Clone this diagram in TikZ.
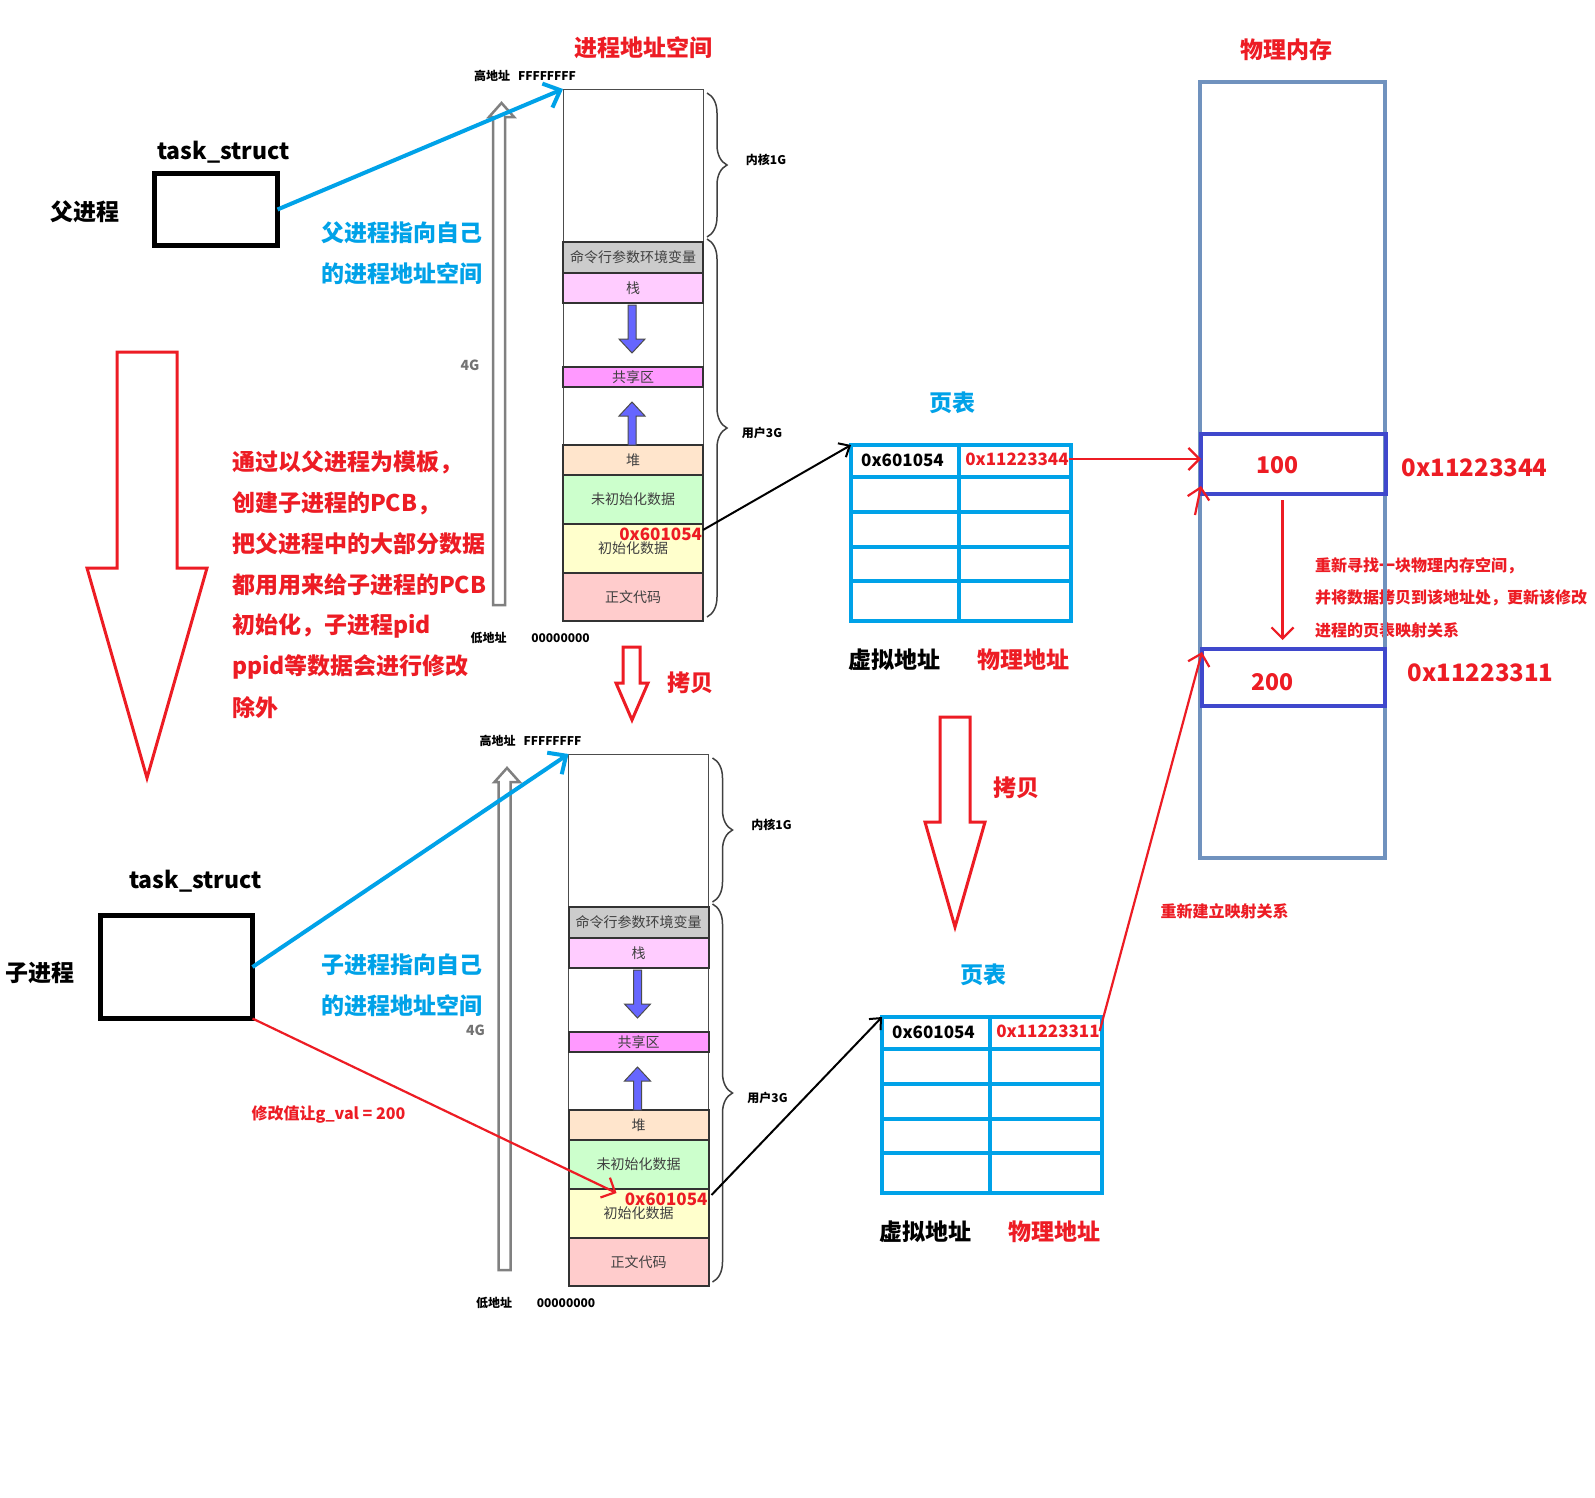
\documentclass[tikz,border=0pt]{standalone}
\usepackage{fontspec}
\setmainfont{Noto Sans CJK SC}
\usetikzlibrary{arrows.meta,decorations.pathreplacing,calc}
\definecolor{pred}{HTML}{ED1C24}
\definecolor{pblue}{HTML}{00A2E8}
\definecolor{pindigo}{HTML}{3F48CC}
\definecolor{pgrey}{HTML}{7092BE}
\definecolor{bgray}{HTML}{CCCCCC}
\definecolor{bpink}{HTML}{FFCCFF}
\definecolor{bmag}{HTML}{FF99FF}
\definecolor{bpeach}{HTML}{FFE5CC}
\definecolor{bgreen}{HTML}{CCFFCC}
\definecolor{byellow}{HTML}{FFFFCC}
\definecolor{bred}{HTML}{FFCCCC}
\definecolor{arrblue}{HTML}{6666FF}

\begin{document}
\begin{tikzpicture}[x=1pt,y=-1pt,
  >={Straight Barb[length=11pt,width=22pt]},
  every node/.style={inner sep=0pt,outer sep=0pt},
  big/.style={font=\bfseries\fontsize{23}{27}\selectfont},
  mid/.style={font=\bfseries\fontsize{17}{20}\selectfont},
  tiny/.style={font=\bfseries\fontsize{12}{14}\selectfont},
  note/.style={font=\bfseries\fontsize{16}{19}\selectfont,text=pred},
  band/.style={draw=black!80,line width=2pt,minimum width=140pt,anchor=north west,
    text=black!75,font=\fontsize{14}{16}\selectfont},
  hollow/.style={draw=pred,line width=3pt,line join=miter},
  redarr/.style={->,pred,line width=2.2pt},
  bluearr/.style={-{Straight Barb[length=14pt,width=26pt]},pblue,line width=4pt},
  blkarr/.style={-{Straight Barb[length=9pt,width=16pt]},black,line width=2pt},
  grid/.style={pblue,line width=4pt}]
  \fill[white] (0,0) rectangle (1595,1497);
  \useasboundingbox (0,0) rectangle (1595,1497);

  \node[big,text=pred] (vastitle) at (643,48) {进程地址空间};
  \node[big,text=pred] (pmtitle) at (1286,50) {物理内存};

  \node[draw,line width=5pt,minimum width=123pt,minimum height=72pt] (ptask) at (216,209.5) {};
  \node[big] (pname) at (223.5,152) {task\_struct};
  \node[big] (plabel) at (85,212) {父进程};
  \node[draw,line width=5pt,minimum width=152pt,minimum height=103pt] (ctask) at (176.5,967) {};
  \node[big] (cname) at (195.5,881) {task\_struct};
  \node[big] (clabel) at (40,973) {子进程};

  \foreach \n/\y/\t in {p1/233/父进程指向自己, p2/274/的进程地址空间,
                        c1/965/子进程指向自己, c2/1006/的进程地址空间}
    \node[big,text=pblue,anchor=west] (\n note) at (321,\y) {\t};

  \foreach \t [count=\i from 0] in {通过以父进程为模板，, 创建子进程的PCB，, 把父进程中的大部分数据,
      都用用来给子进程的PCB, 初始化，子进程pid, ppid等数据会进行修改, 除外}
    \node[big,text=pred,anchor=west] (fork\i) at (232,{462+41*\i}) {\t};

  \foreach \t [count=\i from 0] in {重新寻找一块物理内存空间，, 并将数据拷贝到该地址处，更新该修改,
      进程的页表映射关系}
    \node[note,anchor=west] (find\i) at (1315,{566+32*\i}) {\t};
  \node[note] (remap) at (1224.5,911) {重新建立映射关系};
  \node[note] (gval) at (328.5,1115) {修改值让g\_val\ =\ 200};

  \draw[hollow] (117,352)--(177,352)--(177,568)--(207,568)--(147,778)--(87,568)--(117,568)--cycle;
  \draw[hollow] (623,647)--(640,647)--(640,683)--(648,683)--(632,720)--(616,683)--(623,683)--cycle;
  \node[big,text=pred] (cp1) at (690,683) {拷贝};
  \draw[hollow] (940,717)--(970,717)--(970,822)--(985,822)--(955,927)--(925,822)--(940,822)--cycle;
  \node[big,text=pred] (cp2) at (1016.5,788) {拷贝};

  \foreach \nm/\dx/\dy in {p/563/89, c/568.5/754} {
    \begin{scope}[shift={(\dx,\dy)}]
      \node[draw=black!70,line width=1pt,minimum width=140pt,minimum height=531.7pt,
        anchor=north west] (\nm col) at (0,0) {};
      \foreach \y/\h/\c/\t/\id in {152.7/31.6/bgray/命令行参数环境变量/args,
          184.3/30/bpink/栈/stack, 277.7/20/bmag/共享区/shm, 356/30/bpeach/堆/heap,
          386/49/bgreen/未初始化数据/bss, 435/49.3/byellow/初始化数据/data,
          484.3/47.4/bred/正文代码/text}
        \node[band,fill=\c,minimum height=\h pt] (\nm\id) at (0,\y) {\t};
      \filldraw[fill=arrblue,draw=black!70,line width=1pt]
        (65,216)--(73,216)--(73,250)--(82,250)--(69,264)--(56,250)--(65,250)--cycle;
      \filldraw[fill=arrblue,draw=black!70,line width=1pt]
        (65,356)--(73,356)--(73,327)--(82,327)--(69,313)--(56,327)--(65,327)--cycle;
      \draw[black!50,line width=2.5pt]
        (-70,516)--(-70,28)--(-74,28)--(-61.5,14)--(-49,28)--(-58,28)--(-58,516)--cycle;
      \draw[decorate,decoration={brace,amplitude=20pt},black!75,line width=1.5pt] (144,4)--(144,148);
      \draw[decorate,decoration={brace,amplitude=20pt},black!75,line width=1.5pt] (144,150)--(144,528);
      \node[tiny] (\nm hi) at (-38,-13) {高地址\hspace{8pt}FFFFFFFF};
      \node[tiny] (\nm lo) at (-74.5,549) {低地址};
      \node[tiny] (\nm zero) at (-2.5,549) {00000000};
      \node[font=\bfseries\fontsize{14}{16}\selectfont,text=black!55] (\nm four) at (-93,276) {4G};
      \node[tiny] (\nm kern) at (203,71) {内核1G};
      \node[tiny] (\nm user) at (199,344) {用户3G};
      \node[mid,text=pred,anchor=east] (\nm addr) at (139,445) {0x601054};
    \end{scope}
  }

  \foreach \nm/\dx/\dy/\pa in {p/851/445/0x11223344, c/882/1017/0x11223311} {
    \begin{scope}[shift={(\dx,\dy)}]
      \node[draw=pblue,line width=4pt,minimum width=220pt,minimum height=176pt,
        anchor=north west] (\nm tab) at (0,0) {};
      \foreach \r in {32,67,102,136}
        \draw[grid] (0,\r)--(220,\r);
      \draw[grid] (108,0)--(108,176);
      \node[mid] (\nm va) at (51.5,15) {0x601054};
      \node[mid,text=pred] (\nm pa) at (166,14) {\pa};
      \node[big,text=pblue] (\nm title) at (101,-42) {页表};
      \node[big] (\nm vlab) at (43,215) {虚拟地址};
      \node[big,text=pred] (\nm plab) at (172,215) {物理地址};
    \end{scope}
  }

  \node[draw=pgrey,line width=4pt,minimum width=185pt,minimum height=776pt] (phys) at (1292.5,470) {};
  \node[draw=pindigo,line width=4pt,minimum width=185pt,minimum height=60pt] (hundred) at (1293.5,464) {};
  \node[draw=pindigo,line width=4pt,minimum width=183pt,minimum height=57pt] (twohund) at (1293.5,677.5) {};
  \node[big,text=pred] (v100) at (1277,465) {100};
  \node[big,text=pred] (v200) at (1272,682) {200};
  \node[font=\bfseries\fontsize{24}{28}\selectfont,text=pred] (a100) at (1474.5,468) {0x11223344};
  \node[font=\bfseries\fontsize{24}{28}\selectfont,text=pred] (a200) at (1480.5,673) {0x11223311};

  \draw[bluearr] (ptask.east) -- (pcol.north west);
  \draw[bluearr] (ctask.east) -- (ccol.north west);
  \draw[blkarr] ($(pdata.north east)+(0,6)$) -- (ptab.north west);
  \draw[blkarr] ($(cdata.north east)+(3,6)$) -- (ctab.north west);
  \draw[redarr] (ctask.south east) -- ($(cdata.north west)+(48,4)$);
  \draw[redarr] (ppa.east) -- (ppa.east -| hundred.west);
  \draw[redarr] ($(hundred.south)+(-11,6)$) -- ($(twohund.north)+(-11,-9)$);
  \draw[redarr] (cpa.east) -- ($(twohund.north west)+(0,3)$);
  \draw[redarr] ($(hundred.south west)+(-6,21)$) -- ($(hundred.south west)+(0,-8)$);
\end{tikzpicture}
\end{document}
